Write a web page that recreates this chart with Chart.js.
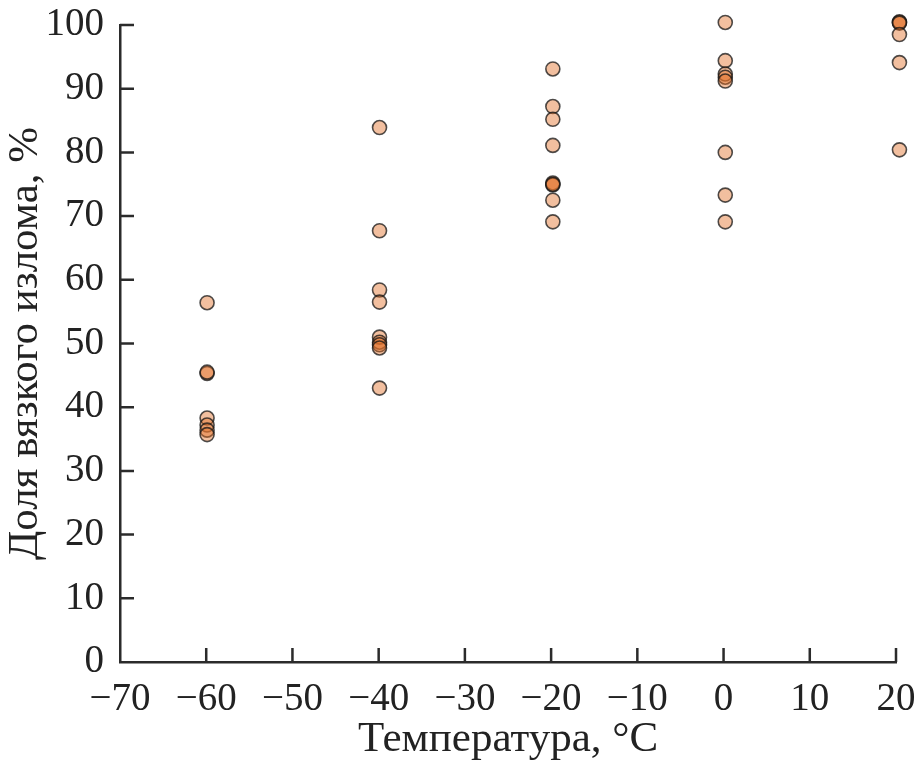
<!DOCTYPE html>
<html>
<head>
<meta charset="utf-8">
<script src="https://cdn.jsdelivr.net/npm/chart.js@4.4.1/dist/chart.umd.min.js"></script>
<style>
  html, body { margin: 0; padding: 0; background: #fff; }
  #wrap { width: 917px; height: 768px; }
</style>
</head>
<body>
<div id="wrap"><canvas id="chart"></canvas></div>
<script>
// temperatures of the test groups, °C
const temps = [-59.9, -39.9, -19.8, 0.2, 20.4];
// ductile fracture share, % (one list per temperature)
const shareM60 = [56.4, 45.3, 45.5, 38.3, 37.2, 36.4, 35.7];
const shareM40 = [83.9, 67.7, 58.4, 56.5, 51.0, 50.2, 49.8, 49.3, 43.0];
const shareM20 = [93.1, 87.2, 85.2, 81.1, 75.2, 74.9, 75.0, 72.5, 69.1];
const share0 = [100.4, 94.4, 92.3, 91.8, 91.2, 80.0, 73.3, 69.1];
const share20 = [100.4, 100.5, 100.3, 98.5, 94.1, 80.4];
const xTicks = [-70, -60, -50, -40, -30, -20, -10, 0, 10, 20];
const yTicks = [0, 10, 20, 30, 40, 50, 60, 70, 80, 90, 100];

const groups = [shareM60, shareM40, shareM20, share0, share20];
const points = [];
// last group first so the points are not x-sorted (keeps those beyond x=20 drawn)
for (let i = groups.length - 1; i >= 0; i--) {
  groups[i].forEach(v => points.push({ x: temps[i], y: v }));
}

const axisColor = '#2b2b2b';
const tickFont = { family: '"Liberation Serif", "DejaVu Serif", serif', size: 39 };
const titleFont = { family: '"Liberation Serif", "DejaVu Serif", serif', size: 43 };

// small ticks pointing into the plot
const innerTicks = {
  id: 'innerTicks',
  beforeDatasetsDraw(chart) {
    const { ctx, scales: { x, y } } = chart;
    ctx.save();
    ctx.strokeStyle = axisColor;
    ctx.lineWidth = 2.5;
    ctx.beginPath();
    xTicks.forEach(t => {
      if (t === -70) return;
      const px = x.getPixelForValue(t);
      ctx.moveTo(px, y.bottom);
      ctx.lineTo(px, y.bottom - 14);
    });
    yTicks.forEach(t => {
      if (t === 0) return;
      const py = y.getPixelForValue(t);
      ctx.moveTo(x.left, py);
      ctx.lineTo(x.left + 14, py);
    });
    ctx.stroke();
    ctx.restore();
  }
};

new Chart(document.getElementById('chart'), {
  type: 'scatter',
  data: {
    datasets: [{
      data: points,
      backgroundColor: 'rgba(226, 112, 42, 0.45)',
      borderColor: 'rgba(20, 20, 20, 0.75)',
      borderWidth: 1.6,
      pointRadius: 7,
      clip: false
    }]
  },
  options: {
    responsive: true,
    maintainAspectRatio: false,
    animation: false,
    layout: { padding: { top: 25, right: 21, bottom: 0, left: 0 } },
    plugins: { legend: { display: false }, tooltip: { enabled: false } },
    scales: {
      x: {
        type: 'linear',
        min: -70,
        max: 20,
        afterBuildTicks: s => { s.ticks = xTicks.map(v => ({ value: v })); },
        afterFit: s => { s.height = 106; s.paddingRight = 0; s.paddingLeft = 0; },
        grid: { display: false },
        border: { display: true, color: axisColor, width: 2.5 },
        ticks: {
          color: '#222',
          font: tickFont,
          padding: 6,
          maxRotation: 0,
          callback: v => v < 0 ? '\u2212' + Math.abs(v) : String(v)
        },
        title: {
          display: true,
          text: 'Температура, °C',
          color: '#222',
          font: titleFont,
          padding: { top: 0, bottom: 2 }
        }
      },
      y: {
        min: 0,
        max: 100,
        afterBuildTicks: s => { s.ticks = yTicks.map(v => ({ value: v })); },
        afterFit: s => { s.width = 120; s.paddingTop = 0; s.paddingBottom = 0; },
        grid: { display: false },
        border: { display: true, color: axisColor, width: 2.5 },
        ticks: { color: '#222', font: tickFont, padding: 8 },
        title: {
          display: true,
          text: 'Доля вязкого излома, %',
          color: '#222',
          font: titleFont,
          padding: { top: 0, bottom: 0 }
        }
      }
    }
  },
  plugins: [innerTicks]
});
</script>
</body>
</html>
